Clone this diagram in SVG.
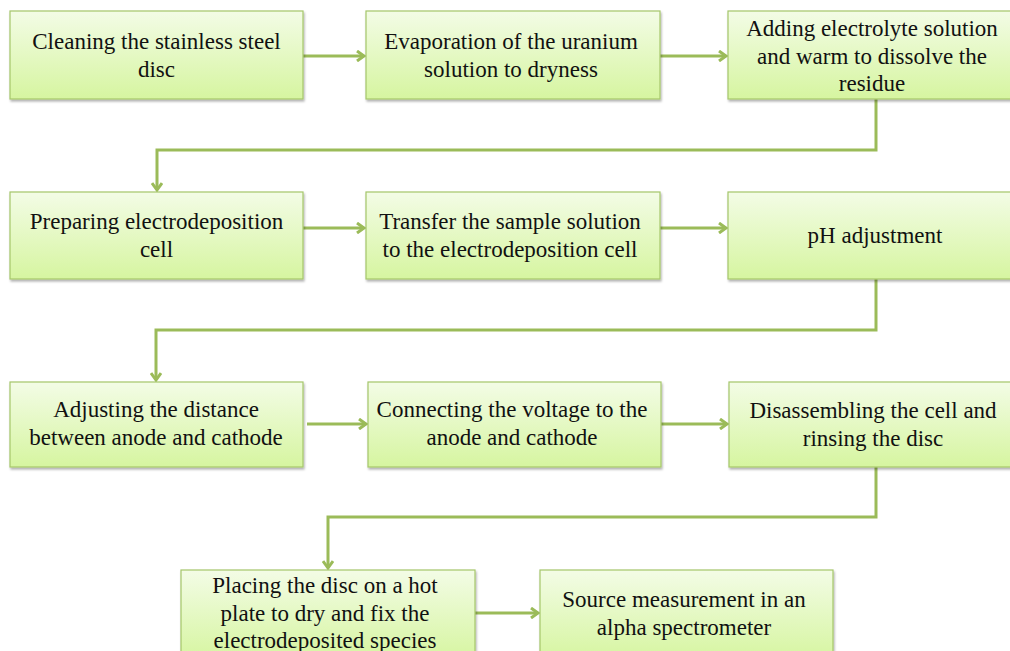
<svg xmlns="http://www.w3.org/2000/svg" width="1010" height="651" viewBox="0 0 1010 651">
<defs>
<linearGradient id="g" x1="0" y1="0" x2="0" y2="1">
<stop offset="0" stop-color="#f3fce6"/>
<stop offset="1" stop-color="#d6f5a0"/>
</linearGradient>
<filter id="sh" x="-5%" y="-5%" width="110%" height="115%">
<feDropShadow dx="1" dy="2" stdDeviation="1.2" flood-color="#000" flood-opacity="0.3"/>
</filter>
<marker id="ah" markerWidth="12" markerHeight="12" refX="9" refY="6" orient="auto" markerUnits="userSpaceOnUse">
<polyline points="2,1 9,6 2,11" fill="none" stroke="#9bbb59" stroke-width="3"/>
</marker>
</defs>
<style>
.box{fill:url(#g);stroke:#a5c66a;stroke-width:1.2;filter:url(#sh)}
.t{font-family:'Liberation Serif','Times New Roman',serif;font-size:23px;fill:#111;text-anchor:middle}
.c{fill:none;stroke:#9bbb59;stroke-width:3;marker-end:url(#ah)}
</style>
<rect width="1010" height="651" fill="#fff"/>
<g id="connectors">
<path class="c" d="M303,56 H364"/>
<path class="c" d="M660,56 H726"/>
<path class="c" d="M876,99 V150 H157 V190"/>
<path class="c" d="M303,228 H364"/>
<path class="c" d="M660,228 H726"/>
<path class="c" d="M876,279 V330 H156 V380"/>
<path class="c" d="M307,424 H366"/>
<path class="c" d="M661,424 H727"/>
<path class="c" d="M876,467 V517 H328 V568"/>
<path class="c" d="M475,613 H538"/>
</g>
<g id="n1"><rect class="box" x="10" y="11" width="293" height="88"/>
<text class="t" x="156.5" y="49">Cleaning the stainless steel</text><text class="t" x="156.5" y="77">disc</text></g>
<g id="n2"><rect class="box" x="366" y="11" width="294" height="88"/>
<text class="t" x="511" y="49">Evaporation of the uranium</text><text class="t" x="511" y="77">solution to dryness</text></g>
<g id="n3"><rect class="box" x="728" y="11" width="294" height="88"/>
<text class="t" x="872" y="36">Adding electrolyte solution</text><text class="t" x="872" y="64">and warm to dissolve the</text><text class="t" x="872" y="91">residue</text></g>
<g id="n4"><rect class="box" x="10" y="192" width="293" height="87"/>
<text class="t" x="156.5" y="229">Preparing electrodeposition</text><text class="t" x="156.5" y="257">cell</text></g>
<g id="n5"><rect class="box" x="366" y="192" width="294" height="87"/>
<text class="t" x="510" y="229">Transfer the sample solution</text><text class="t" x="510" y="257">to the electrodeposition cell</text></g>
<g id="n6"><rect class="box" x="728" y="192" width="294" height="87"/>
<text class="t" x="875" y="243">pH adjustment</text></g>
<g id="n7"><rect class="box" x="10" y="382" width="293" height="85"/>
<text class="t" x="156" y="417">Adjusting the distance</text><text class="t" x="156" y="445">between anode and cathode</text></g>
<g id="n8"><rect class="box" x="368" y="382" width="293" height="85"/>
<text class="t" x="512" y="417">Connecting the voltage to the</text><text class="t" x="512" y="445">anode and cathode</text></g>
<g id="n9"><rect class="box" x="729" y="382" width="293" height="85"/>
<text class="t" x="873" y="418">Disassembling the cell and</text><text class="t" x="873" y="446">rinsing the disc</text></g>
<g id="n10"><rect class="box" x="181" y="570" width="294" height="90"/>
<text class="t" x="325" y="593">Placing the disc on a hot</text><text class="t" x="325" y="621">plate to dry and fix the</text><text class="t" x="325" y="648">electrodeposited species</text></g>
<g id="n11"><rect class="box" x="540" y="570" width="293" height="90"/>
<text class="t" x="684" y="607">Source measurement in an</text><text class="t" x="684" y="635">alpha spectrometer</text></g>
</svg>
